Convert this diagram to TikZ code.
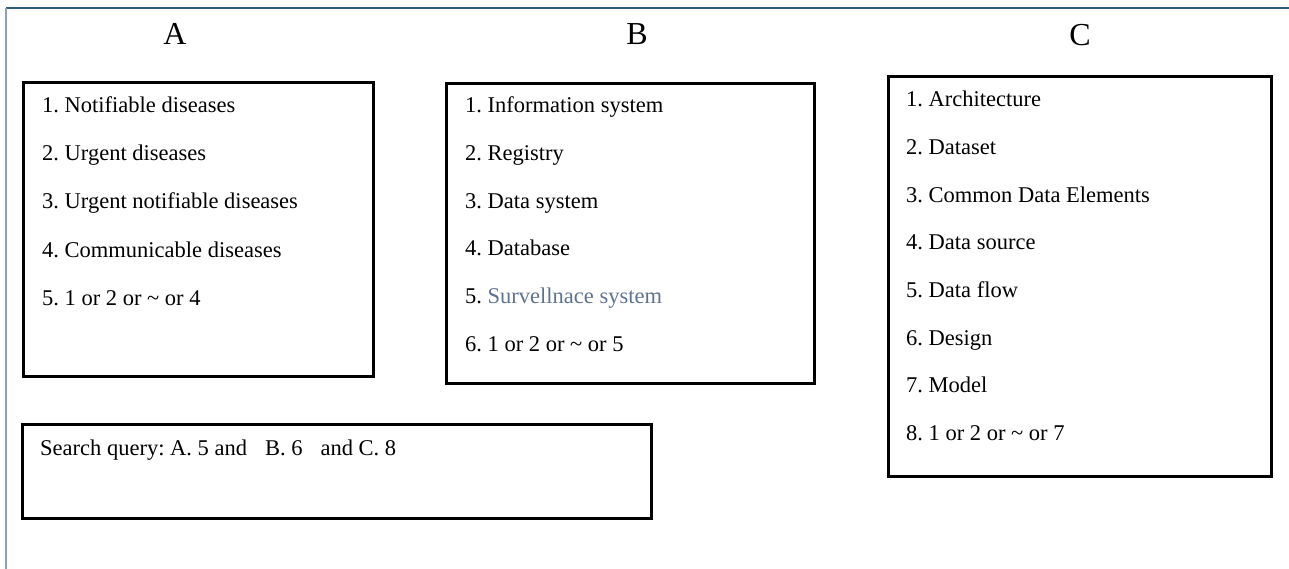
\documentclass[tikz,border=0pt]{standalone}
\usepackage{fontspec}
\setmainfont{Liberation Serif}
\usetikzlibrary{positioning}
\definecolor{framedark}{HTML}{2F5D7E}
\definecolor{framelight}{HTML}{8AA3BC}
\definecolor{survcol}{HTML}{5F7390}
\frenchspacing

\begin{document}
\begin{tikzpicture}[x=1pt,y=-1pt,
        box/.style={draw=black,line width=3pt,anchor=north west,inner sep=0pt},
        heading/.style={anchor=base,inner sep=0pt,font=\fontsize{32}{36}\selectfont},
        entry/.style={anchor=base west,inner sep=0pt,font=\fontsize{22.5}{26}\selectfont}]
      \useasboundingbox (0,0) rectangle (1289,569);
      \draw[framedark,line width=2pt] (6,8) -- (1289,8);
      \draw[framelight,line width=2pt] (6,8) -- (6,569);
      \node [heading] (hA) at (175,45) {A};
      \node [heading] (hB) at (637,45) {B};
      \node [heading] (hC) at (1080,46) {C};
      \node [box,minimum width=350pt,minimum height=294pt] (A) at (22,81) {};
      \node [box,minimum width=368pt,minimum height=300pt] (B) at (445,82) {};
      \node [box,minimum width=383pt,minimum height=400pt] (C) at (887,75) {};
      \node [box,minimum width=629pt,minimum height=94pt]  (Q) at (21,423) {};
      \foreach \txt [count=\i] in {Notifiable diseases, Urgent diseases,
          Urgent notifiable diseases, Communicable diseases,
          1 or 2 or \textasciitilde{} or 4}
        \node [entry] (A\i) at ([shift={(20,{32+48*(\i-1)})}]A.north west) {\i. \txt};
      \foreach \txt [count=\i] in {Information system, Registry, Data system,
          Database, \textcolor{survcol}{Survellnace system},
          1 or 2 or \textasciitilde{} or 5}
        \node [entry] (B\i) at ([shift={(20,{31+47.6*(\i-1)})}]B.north west) {\i. \txt};
      \foreach \txt [count=\i] in {Architecture, Dataset, Common Data Elements,
          Data source, Data flow, Design, Model,
          1 or 2 or \textasciitilde{} or 7}
        \node [entry] (C\i) at ([shift={(19,{32+47.6*(\i-1)})}]C.north west) {\i. \txt};
      \node [entry] (q) at ([shift={(19,32)}]Q.north west)
        {Search query: A. 5 and\hspace{0.8em}B. 6\hspace{0.8em}and C. 8};
    \end{tikzpicture}
\end{document}
